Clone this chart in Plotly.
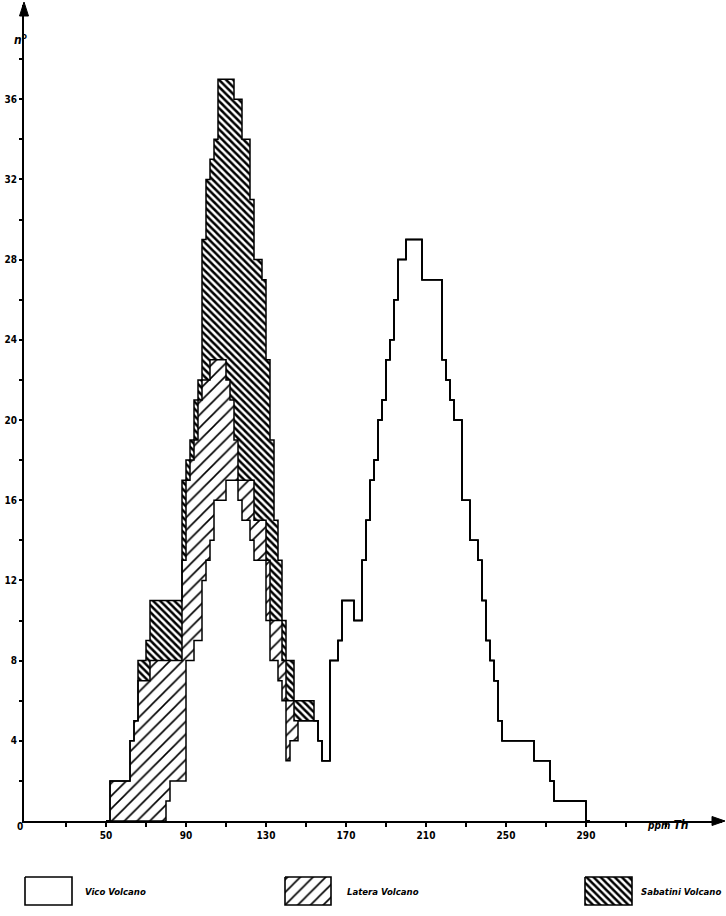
import plotly.graph_objects as go

# ---------------- data (counts per 2-ppm Th bin) ----------------
BIN = 2
GRID_START, GRID_END = 50, 292

vico_start = 80
vico_counts = [1, 2, 2, 2, 2, 8, 8, 9, 9, 12, 13, 14, 16, 16, 16, 17, 17, 17, 16, 15,
               15, 14, 13, 13, 13, 10, 8, 8, 7, 6, 3, 4, 4, 5, 5, 5, 5, 5, 4, 3,
               3, 8, 8, 9, 11, 11, 11, 10, 10, 13, 15, 17, 18, 20, 21, 23, 24, 26, 28, 28,
               29, 29, 29, 29, 27, 27, 27, 27, 27, 23, 22, 21, 20, 20, 16, 16, 14, 14, 13, 11,
               9, 8, 7, 5, 4, 4, 4, 4, 4, 4, 4, 4, 3, 3, 3, 3, 2, 1, 1, 1,
               1, 1, 1, 1, 1]

latera_start = 52
latera_counts = [2, 2, 2, 2, 2, 4, 5, 7, 7, 7, 8, 8, 8, 8, 7, 6, 6, 6, 11, 9,
                 10, 10, 12, 10, 9, 9, 7, 7, 7, 5, 4, 2, 1, 2, 2, 3, 2, 2, 2, 3,
                 2, 2, 3, 2, 3, 2, 1]

sabatini_start = 66
sabatini_counts = [1, 1, 2, 3, 3, 3, 3, 3, 3, 3, 3, 4, 1, 1, 2, 1, 7, 10, 10, 11,
                   14, 14, 15, 16, 17, 19, 17, 17, 14, 13, 13, 12, 10, 9, 5, 3, 2, 2, 2, 1,
                   1, 1, 1, 1]

series_names = ["Vico Volcano", "Latera Volcano", "Sabatini Volcano"]
x_tick_values = list(range(30, 331, 20))
x_tick_labels = ["", "50", "", "90", "", "130", "", "170", "", "210", "", "250", "", "290", "", ""]
y_tick_values = list(range(2, 39, 2))
y_tick_labels = [str(v) if v % 4 == 0 else "" for v in y_tick_values]

# ---------------- helpers ----------------
W, H = 726, 916
PX_L, PX_R = 24, 722          # plot area in pixels
PY_T, PY_B = 5, 821
Y_PER_UNIT = 20.05

nbins = (GRID_END - GRID_START) // BIN


def on_grid(start, counts):
    arr = [0] * nbins
    off = (start - GRID_START) // BIN
    for i, c in enumerate(counts):
        arr[off + i] = c
    return arr


v = on_grid(vico_start, vico_counts)
l = on_grid(latera_start, latera_counts)
s = on_grid(sabatini_start, sabatini_counts)
cum1 = v
cum2 = [a + b for a, b in zip(v, l)]
cum3 = [a + b for a, b in zip(cum2, s)]
edges = [GRID_START + i * BIN for i in range(nbins + 1)]


def step_y(c):
    return c + [c[-1]]


def fx(px):
    return px / W


def fy(py):
    return (H - py) / H


latera_pat = dict(shape="/", size=9, solidity=0.18, fgcolor="black", bgcolor="white", fillmode="replace")
sabatini_pat = dict(shape="\\", size=5, solidity=0.5, fgcolor="black", bgcolor="white", fillmode="replace")

fig = go.Figure()
line = dict(color="black", width=1.5, shape="hv")
fig.add_trace(go.Scatter(x=edges, y=step_y(cum1), mode="lines", line=line,
                         fill="tozeroy", fillcolor="white", name=series_names[0],
                         hoverinfo="skip"))
fig.add_trace(go.Scatter(x=edges, y=step_y(cum2), mode="lines", line=line,
                         fill="tonexty", name=series_names[1], hoverinfo="skip",
                         fillpattern=latera_pat))
fig.add_trace(go.Scatter(x=edges, y=step_y(cum3), mode="lines", line=line,
                         fill="tonexty", name=series_names[2], hoverinfo="skip",
                         fillpattern=sabatini_pat))

# ---------------- legend (custom boxes in a helper subplot) ----------------
legend_boxes = [(25, 72), (285, 331), (585, 632)]
legend_text_x = [83, 345, 639]
patterns = [None, latera_pat, sabatini_pat]
by0, by1 = 877 - PY_B, 905 - PY_B
for (bx0, bx1), pat, name, tx in zip(legend_boxes, patterns, series_names, legend_text_x):
    kw = dict(fillpattern=pat) if pat else dict(fillcolor="white")
    fig.add_trace(go.Scatter(x=[bx0, bx1, bx1, bx0, bx0], y=[by0, by0, by1, by1, by0],
                             mode="lines", fill="toself", line=dict(color="black", width=1.6),
                             xaxis="x2", yaxis="y2", hoverinfo="skip", showlegend=False, **kw))
    fig.add_annotation(x=tx, y=(by0 + by1) / 2, xref="x2", yref="y2", text=name,
                       showarrow=False, xanchor="left", yanchor="middle",
                       font=dict(family="DejaVu Sans Condensed", size=9.5,
                                 color="black", weight="bold", style="italic"))

tick_font = dict(family="DejaVu Sans Condensed", size=10, color="black", weight="bold")

fig.update_layout(
    width=W, height=H, margin=dict(l=0, r=0, t=0, b=0),
    paper_bgcolor="white", plot_bgcolor="white", showlegend=False,
    xaxis=dict(domain=[PX_L / W, PX_R / W], range=[9, 9 + (PX_R - PX_L) / 2],
               showline=True, linecolor="black", linewidth=2, showgrid=False, zeroline=False,
               ticks="outside", ticklen=4, tickwidth=1.5, tickcolor="black",
               tickmode="array", tickvals=x_tick_values, ticktext=x_tick_labels,
               tickfont=tick_font, anchor="y", fixedrange=True),
    yaxis=dict(domain=[(H - PY_B) / H, (H - PY_T) / H], range=[0, (PY_B - PY_T) / Y_PER_UNIT],
               showline=True, linecolor="black", linewidth=2, showgrid=False, zeroline=False,
               ticks="outside", ticklen=3, tickwidth=1.5, tickcolor="black",
               tickmode="array", tickvals=y_tick_values, ticktext=y_tick_labels,
               tickfont=tick_font, anchor="x", fixedrange=True),
    xaxis2=dict(domain=[0, 1], range=[0, W], visible=False, anchor="y2", fixedrange=True),
    yaxis2=dict(domain=[0, (H - PY_B) / H], range=[H - PY_B, 0], visible=False, anchor="x2",
                fixedrange=True),
)

# axis arrowheads (layout decoration, paper coordinates)
arrow_up = (f"M{fx(PX_L)},{fy(2)} L{fx(PX_L - 4.5)},{fy(16)} L{fx(PX_L + 4.5)},{fy(16)} Z")
arrow_right = (f"M{fx(W - 1)},{fy(PY_B)} L{fx(W - 14)},{fy(PY_B - 4.5)} "
               f"L{fx(W - 14)},{fy(PY_B + 4.5)} Z")
for p in (arrow_up, arrow_right):
    fig.add_shape(type="path", path=p, xref="paper", yref="paper",
                  fillcolor="black", line=dict(color="black", width=1))
fig.add_shape(type="line", xref="paper", yref="paper", x0=fx(PX_R - 1), x1=fx(W - 12),
              y0=fy(PY_B), y1=fy(PY_B), line=dict(color="black", width=2))

# axis texts
fig.add_annotation(x=fx(15), y=fy(834), xref="paper", yref="paper", text="0", showarrow=False,
                   font=tick_font)
fig.add_annotation(x=fx(12), y=fy(29), xref="paper", yref="paper", text="<i>n</i><sup>o</sup>",
                   showarrow=False, font=dict(family="DejaVu Sans Condensed", size=12, color="black",
                                              weight="bold"))
fig.add_annotation(x=fx(645), y=fy(834), xref="paper", yref="paper",
                   text="<i>ppm</i> <span style='font-size:12px'><b><i>Th</i></b></span>",
                   showarrow=False, xanchor="left",
                   font=dict(family="DejaVu Sans Condensed", size=10, color="black", weight="bold"))

fig.write_html("out.html", config={"displayModeBar": False},
               post_script="document.body.style.margin='0';")
